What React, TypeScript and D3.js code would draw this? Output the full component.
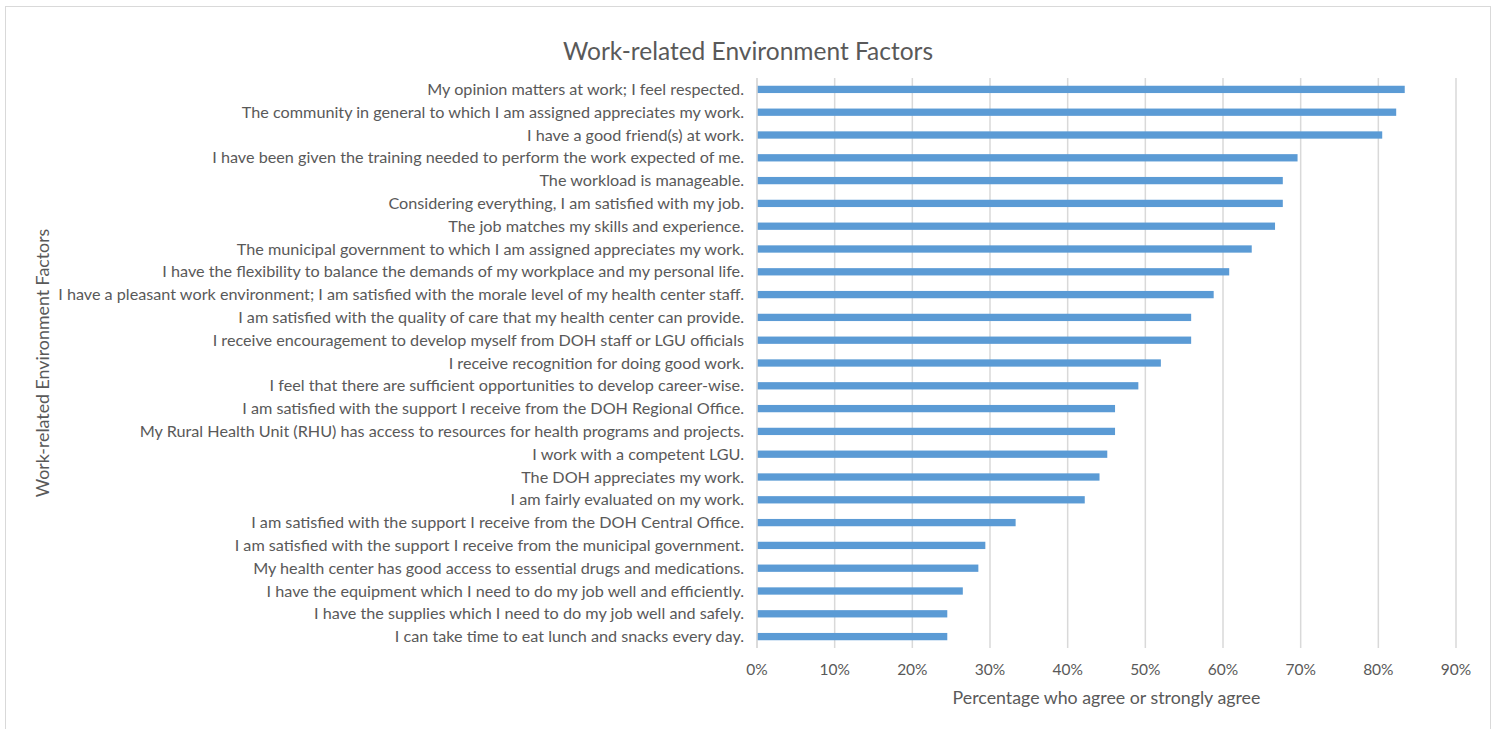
import React, { useEffect, useRef } from 'react';
import * as d3 from 'd3';

const categories = [
  'My opinion matters at work; I feel respected.',
  'The community in general to which I am assigned appreciates my work.',
  'I have a good friend(s) at work.',
  'I have been given the training needed to perform the work expected of me.',
  'The workload is manageable.',
  'Considering everything, I am satisfied with my job.',
  'The job matches my skills and experience.',
  'The municipal government to which I am assigned appreciates my work.',
  'I have the flexibility to balance the demands of my workplace and my personal life.',
  'I have a pleasant work environment; I am satisfied with the morale level of my health center staff.',
  'I am satisfied with the quality of care that my health center can provide.',
  'I receive encouragement to develop myself from DOH staff or LGU officials',
  'I receive recognition for doing good work.',
  'I feel that there are sufficient opportunities to develop career-wise.',
  'I am satisfied with the support I receive from the DOH Regional Office.',
  'My Rural Health Unit (RHU) has access to resources for health programs and projects.',
  'I work with a competent LGU.',
  'The DOH appreciates my work.',
  'I am fairly evaluated on my work.',
  'I am satisfied with the support I receive from the DOH Central Office.',
  'I am satisfied with the support I receive from the municipal government.',
  'My health center has good access to essential drugs and medications.',
  'I have the equipment which I need to do my job well and efficiently.',
  'I have the supplies which I need to do my job well and safely.',
  'I can take time to eat lunch and snacks every day.',
];

const values = [
  0.834, 0.823, 0.805, 0.696, 0.677, 0.677, 0.667, 0.637, 0.608, 0.588, 0.559, 0.559, 0.52,
  0.491, 0.461, 0.461, 0.451, 0.441, 0.422, 0.333, 0.294, 0.285, 0.265, 0.245, 0.245,
];

const xTicks = [0, 0.1, 0.2, 0.3, 0.4, 0.5, 0.6, 0.7, 0.8, 0.9];

const chartTitle = 'Work-related Environment Factors';
const xTitle = 'Percentage who agree or strongly agree';
const yTitle = 'Work-related Environment Factors';

const App = () => {
  const ref = useRef<SVGSVGElement>(null);

  useEffect(() => {
    document.body.style.margin = '0';
    const width = 1499;
    const height = 729;
    const font = 'Lato, "Open Sans", sans-serif';
    const textColor = '#595959';

    const svg = d3.select(ref.current);
    svg.selectAll('*').remove();
    svg.attr('width', width).attr('height', height);

    svg.append('rect').attr('width', width).attr('height', height).attr('fill', '#fff');
    // outer chart border
    svg
      .append('rect')
      .attr('x', 5.5)
      .attr('y', 6.5)
      .attr('width', 1485)
      .attr('height', 730)
      .attr('fill', 'none')
      .attr('stroke', '#d9d9d9');

    const left = 757;
    const right = 1456;
    const top = 78;
    const bottom = 648;

    const x = d3.scaleLinear().domain([0, 0.9]).range([left, right]);
    const y = d3.scaleBand().domain(categories).range([top, bottom]).paddingInner(0.68).paddingOuter(0.34);

    // gridlines
    svg
      .append('g')
      .selectAll('line')
      .data(xTicks)
      .enter()
      .append('line')
      .attr('x1', (d) => x(d))
      .attr('x2', (d) => x(d))
      .attr('y1', top)
      .attr('y2', bottom)
      .attr('stroke', '#d9d9d9')
      .attr('stroke-width', 1.5);

    // bars
    svg
      .append('g')
      .selectAll('rect')
      .data(values)
      .enter()
      .append('rect')
      .attr('x', x(0))
      .attr('y', (d, i) => y(categories[i]) as number)
      .attr('width', (d) => x(d) - x(0))
      .attr('height', y.bandwidth())
      .attr('fill', '#5b9bd5');

    // axis line on the left
    svg
      .append('line')
      .attr('x1', left)
      .attr('x2', left)
      .attr('y1', top)
      .attr('y2', bottom)
      .attr('stroke', '#d9d9d9')
      .attr('stroke-width', 1.5);

    // category labels
    svg
      .append('g')
      .selectAll('text')
      .data(categories)
      .enter()
      .append('text')
      .attr('x', left - 13)
      .attr('y', (d) => (y(d) as number) + y.bandwidth() / 2)
      .attr('dy', '0.35em')
      .attr('text-anchor', 'end')
      .style('font-family', font)
      .style('font-size', '16.2px')
      .attr('fill', textColor)
      .text((d) => d);

    // x tick labels
    svg
      .append('g')
      .selectAll('text')
      .data(xTicks)
      .enter()
      .append('text')
      .attr('x', (d) => x(d))
      .attr('y', 670)
      .attr('dy', '0.35em')
      .attr('text-anchor', 'middle')
      .style('font-family', font)
      .style('font-size', '15.5px')
      .attr('fill', textColor)
      .text((d) => d3.format('.0%')(d));

    svg
      .append('text')
      .attr('x', (left + right) / 2)
      .attr('y', 698)
      .attr('dy', '0.35em')
      .attr('text-anchor', 'middle')
      .style('font-family', font)
      .style('font-size', '17.8px')
      .attr('fill', textColor)
      .text(xTitle);

    svg
      .append('text')
      .attr('transform', `translate(43,${(top + bottom) / 2}) rotate(-90)`)
      .attr('dy', '0.35em')
      .attr('text-anchor', 'middle')
      .style('font-family', font)
      .style('font-size', '17.8px')
      .attr('fill', textColor)
      .text(yTitle);

    svg
      .append('text')
      .attr('x', 748)
      .attr('y', 51)
      .attr('dy', '0.35em')
      .attr('text-anchor', 'middle')
      .style('font-family', font)
      .style('font-size', '24.5px')
      .attr('fill', textColor)
      .text(chartTitle);
  }, []);

  return <svg ref={ref} style={{ display: 'block' }}></svg>;
};

export default App;
